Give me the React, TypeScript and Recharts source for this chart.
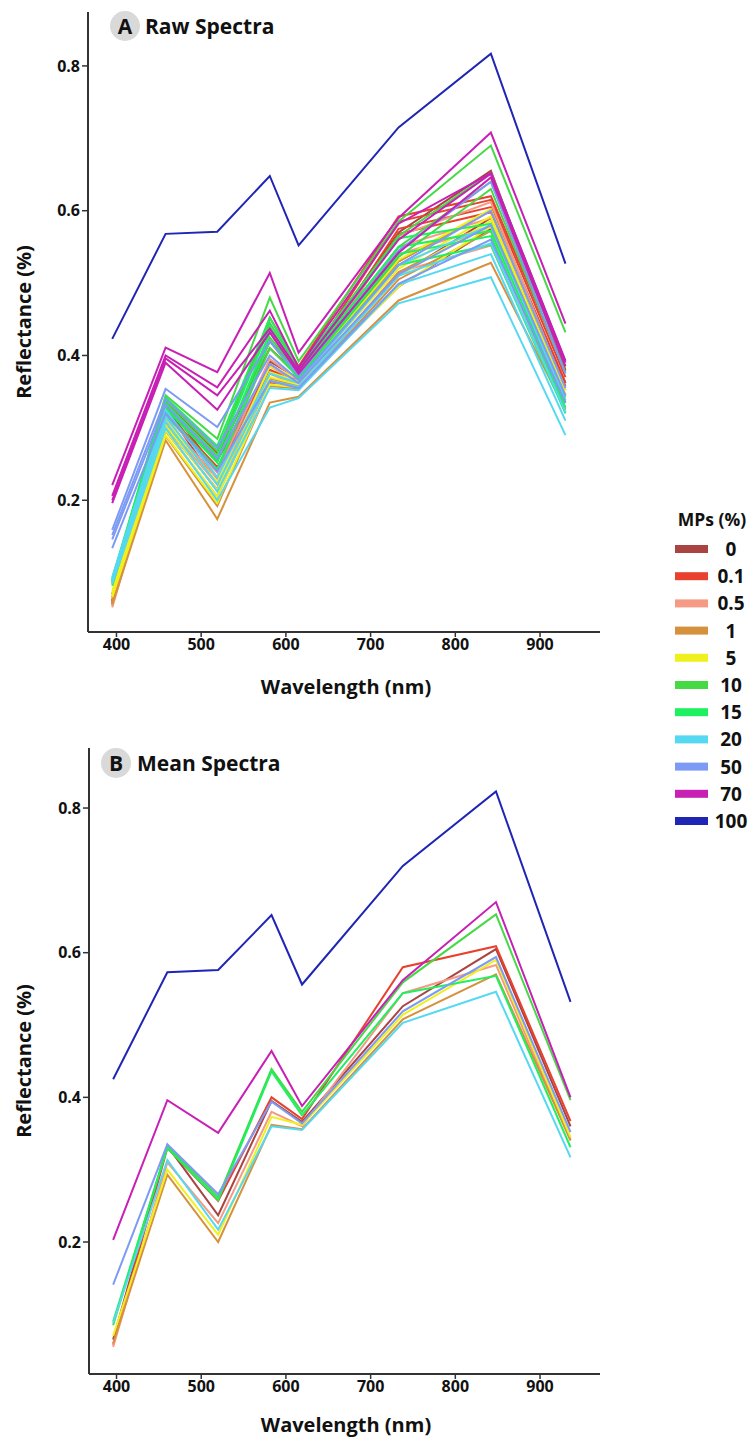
import React from 'react';
import { LineChart, Line, XAxis, YAxis } from 'recharts';

// ---------- DATA ----------
const rawWavelengths = [395, 458, 519, 581, 615, 733, 842, 930];
const meanWavelengths = [396, 460, 520, 583, 619, 738, 848, 936];
const groups = ['0', '0.1', '0.5', '1', '5', '10', '15', '20', '50', '70', '100'];
const groupColors = ['#a94442', '#e8412f', '#f59a85', '#d6913c', '#f0f01e', '#46d946', '#1ef060', '#55d8f2', '#7d9bf5', '#c81fb5', '#1f25b5'];
const xTicks = [400, 500, 600, 700, 800, 900];
const yTicks = [0.2, 0.4, 0.6, 0.8];

// Raw spectra (replicates per group)
const raw0 = [
  [0.070, 0.340, 0.255, 0.420, 0.375, 0.570, 0.655, 0.380],
  [0.066, 0.335, 0.240, 0.392, 0.368, 0.530, 0.600, 0.362],
  [0.062, 0.330, 0.230, 0.388, 0.362, 0.510, 0.590, 0.352],
  [0.060, 0.326, 0.222, 0.380, 0.358, 0.495, 0.575, 0.345],
];
const raw01 = [
  [0.058, 0.338, 0.265, 0.452, 0.385, 0.592, 0.620, 0.378],
  [0.056, 0.332, 0.262, 0.410, 0.372, 0.585, 0.615, 0.370],
  [0.060, 0.328, 0.255, 0.380, 0.365, 0.575, 0.605, 0.362],
  [0.057, 0.322, 0.246, 0.362, 0.360, 0.568, 0.598, 0.358],
];
const raw05 = [
  [0.058, 0.318, 0.238, 0.395, 0.366, 0.565, 0.612, 0.352],
  [0.055, 0.312, 0.230, 0.385, 0.362, 0.550, 0.590, 0.343],
  [0.054, 0.306, 0.222, 0.375, 0.358, 0.540, 0.578, 0.336],
  [0.052, 0.302, 0.214, 0.365, 0.354, 0.515, 0.552, 0.328],
];
const raw1 = [
  [0.064, 0.302, 0.215, 0.375, 0.362, 0.530, 0.600, 0.355],
  [0.061, 0.296, 0.205, 0.368, 0.358, 0.515, 0.580, 0.345],
  [0.058, 0.289, 0.192, 0.358, 0.354, 0.505, 0.572, 0.338],
  [0.056, 0.283, 0.174, 0.335, 0.343, 0.476, 0.528, 0.325],
];
const raw5 = [
  [0.074, 0.310, 0.225, 0.385, 0.368, 0.532, 0.602, 0.352],
  [0.071, 0.303, 0.214, 0.377, 0.364, 0.520, 0.592, 0.347],
  [0.069, 0.297, 0.205, 0.370, 0.360, 0.510, 0.586, 0.342],
  [0.066, 0.290, 0.196, 0.360, 0.356, 0.495, 0.578, 0.338],
];
const raw10 = [
  [0.088, 0.345, 0.285, 0.480, 0.392, 0.585, 0.690, 0.432],
  [0.086, 0.338, 0.268, 0.445, 0.382, 0.565, 0.652, 0.392],
  [0.084, 0.330, 0.255, 0.425, 0.376, 0.550, 0.640, 0.385],
  [0.082, 0.322, 0.242, 0.410, 0.370, 0.536, 0.630, 0.376],
];
const raw15 = [
  [0.092, 0.342, 0.275, 0.452, 0.383, 0.562, 0.582, 0.342],
  [0.090, 0.334, 0.262, 0.440, 0.377, 0.550, 0.572, 0.334],
  [0.089, 0.327, 0.252, 0.432, 0.372, 0.540, 0.565, 0.328],
  [0.087, 0.318, 0.243, 0.420, 0.368, 0.525, 0.553, 0.320],
];
const raw20 = [
  [0.094, 0.325, 0.232, 0.375, 0.362, 0.525, 0.580, 0.338],
  [0.090, 0.316, 0.222, 0.365, 0.357, 0.510, 0.555, 0.322],
  [0.087, 0.309, 0.212, 0.355, 0.352, 0.498, 0.540, 0.310],
  [0.084, 0.300, 0.200, 0.328, 0.341, 0.472, 0.508, 0.290],
];
const raw50 = [
  [0.159, 0.354, 0.301, 0.420, 0.372, 0.545, 0.640, 0.375],
  [0.152, 0.340, 0.272, 0.400, 0.366, 0.525, 0.600, 0.355],
  [0.146, 0.332, 0.258, 0.388, 0.362, 0.512, 0.580, 0.345],
  [0.134, 0.320, 0.240, 0.365, 0.355, 0.499, 0.560, 0.335],
];
const raw70 = [
  [0.221, 0.411, 0.377, 0.514, 0.404, 0.590, 0.708, 0.444],
  [0.206, 0.400, 0.356, 0.462, 0.383, 0.582, 0.652, 0.393],
  [0.200, 0.396, 0.345, 0.437, 0.379, 0.560, 0.651, 0.390],
  [0.196, 0.390, 0.325, 0.432, 0.375, 0.542, 0.646, 0.385],
];
const raw100 = [
  [0.423, 0.568, 0.571, 0.648, 0.552, 0.715, 0.817, 0.527],
];
const rawGroups = [raw0, raw01, raw05, raw1, raw5, raw10, raw15, raw20, raw50, raw70, raw100];

// Mean spectra
const mean0 = [0.065, 0.333, 0.237, 0.395, 0.366, 0.526, 0.605, 0.360];
const mean01 = [0.058, 0.330, 0.257, 0.400, 0.370, 0.580, 0.609, 0.367];
const mean05 = [0.055, 0.310, 0.226, 0.380, 0.360, 0.544, 0.583, 0.340];
const mean1 = [0.060, 0.293, 0.200, 0.362, 0.356, 0.508, 0.570, 0.341];
const mean5 = [0.070, 0.300, 0.210, 0.373, 0.362, 0.514, 0.590, 0.345];
const mean10 = [0.085, 0.333, 0.262, 0.439, 0.380, 0.559, 0.653, 0.396];
const mean15 = [0.090, 0.330, 0.258, 0.436, 0.375, 0.544, 0.568, 0.331];
const mean20 = [0.088, 0.313, 0.217, 0.360, 0.355, 0.503, 0.546, 0.317];
const mean50 = [0.141, 0.335, 0.266, 0.394, 0.364, 0.519, 0.594, 0.352];
const mean70 = [0.203, 0.396, 0.351, 0.464, 0.388, 0.562, 0.670, 0.400];
const mean100 = [0.425, 0.573, 0.576, 0.652, 0.556, 0.720, 0.823, 0.532];
const meanGroups = [mean0, mean01, mean05, mean1, mean5, mean10, mean15, mean20, mean50, mean70, mean100];

// ---------- TABLES ----------
type Series = { key: string; color: string };
const rawSeries: Series[] = [];
rawGroups.forEach((reps, g) => reps.forEach((_, r) => rawSeries.push({ key: `g${g}r${r}`, color: groupColors[g] })));
const rawTable = rawWavelengths.map((wl, i) => {
  const row: Record<string, number> = { wl };
  rawGroups.forEach((reps, g) => reps.forEach((vals, r) => { row[`g${g}r${r}`] = vals[i]; }));
  return row;
});
const meanTable = meanWavelengths.map((wl, i) => {
  const row: Record<string, number> = { wl };
  meanGroups.forEach((vals, g) => { row[`m${g}`] = vals[i]; });
  return row;
});

const FONT = "'Open Sans', 'Noto Sans', sans-serif";
const tickStyle = { fill: '#111', fontSize: 16, fontWeight: 700, fontFamily: FONT };
const axisLine = { stroke: '#333', strokeWidth: 2 };
const tickLine = { stroke: '#333', strokeWidth: 1.5 };

function Panel(props: { table: Record<string, number>[]; series: Series[]; yWidth: number; xDomain: [number, number]; yDomain: [number, number]; height: number; width: number }) {
  const { table, series, yWidth, xDomain, yDomain, height, width } = props;
  return (
    <LineChart width={width} height={height} data={table} margin={{ top: 12, right: 20, bottom: 0, left: 0 }}>
      <XAxis type="number" dataKey="wl" domain={xDomain} ticks={xTicks} allowDataOverflow height={68}
        tick={tickStyle} axisLine={axisLine} tickLine={tickLine} tickSize={5} interval={0} />
      <YAxis type="number" domain={yDomain} ticks={yTicks} allowDataOverflow width={yWidth}
        tick={tickStyle} axisLine={axisLine} tickLine={tickLine} tickSize={6}
        tickFormatter={(v: number) => v.toFixed(1)} interval={0} />
      {series.map((s) => (
        <Line key={s.key} type="linear" dataKey={s.key} stroke={s.color} strokeWidth={2}
          dot={false} activeDot={false} isAnimationActive={false} />
      ))}
    </LineChart>
  );
}

const meanSeries: Series[] = groups.map((_, g) => ({ key: `m${g}`, color: groupColors[g] }));

export default function App() {
  const legendTop = 549;
  const legendStep = 27.2;
  return (
    <div style={{ position: 'absolute', left: 0, top: 0, width: 754, height: 1443, background: '#fff', fontFamily: FONT }}>
      <div style={{ position: 'absolute', left: 0, top: 0 }}>
        <Panel table={rawTable} series={rawSeries} yWidth={88} xDomain={[366.4, 970.8]} yDomain={[0.018, 0.8745]} width={620} height={700} />
      </div>
      <div style={{ position: 'absolute', left: 0, top: 736 }}>
        <Panel table={meanTable} series={meanSeries} yWidth={89} xDomain={[367.5, 970.8]} yDomain={[0.0175, 0.883]} width={620} height={706} />
      </div>
      <svg width={754} height={1443} style={{ position: 'absolute', left: 0, top: 0, pointerEvents: 'none' }}>
        {/* Panel titles */}
        <circle cx={125} cy={26} r={15} fill="#d9d9d9" />
        <text x={125} y={33.5} textAnchor="middle" fontSize={21} fontWeight={700} fill="#111" fontFamily={FONT}>A</text>
        <text x={145} y={33.5} fontSize={21} fontWeight={700} fill="#111" fontFamily={FONT}>Raw Spectra</text>
        <circle cx={116} cy={763} r={15} fill="#d9d9d9" />
        <text x={116} y={770.5} textAnchor="middle" fontSize={21} fontWeight={700} fill="#111" fontFamily={FONT}>B</text>
        <text x={137} y={770.5} fontSize={21} fontWeight={700} fill="#111" fontFamily={FONT}>Mean Spectra</text>
        {/* Axis titles */}
        <text x={346} y={694} textAnchor="middle" fontSize={20} fontWeight={700} fill="#111" fontFamily={FONT}>Wavelength (nm)</text>
        <text x={346} y={1432} textAnchor="middle" fontSize={20} fontWeight={700} fill="#111" fontFamily={FONT}>Wavelength (nm)</text>
        <text transform="translate(31,322) rotate(-90)" textAnchor="middle" fontSize={20} fontWeight={700} fill="#111" fontFamily={FONT}>Reflectance (%)</text>
        <text transform="translate(31,1061) rotate(-90)" textAnchor="middle" fontSize={20} fontWeight={700} fill="#111" fontFamily={FONT}>Reflectance (%)</text>
        {/* Legend */}
        <text x={712} y={526} textAnchor="middle" fontSize={17.5} fontWeight={700} fill="#111" fontFamily={FONT}>MPs (%)</text>
        {groups.map((g, i) => (
          <g key={g}>
            <rect x={675} y={legendTop + i * legendStep - 4} width={33} height={8} fill={groupColors[i]} />
            <text x={731} y={legendTop + i * legendStep + 7} textAnchor="middle" fontSize={19} fontWeight={700} fill="#111" fontFamily={FONT}>{g}</text>
          </g>
        ))}
      </svg>
    </div>
  );
}
